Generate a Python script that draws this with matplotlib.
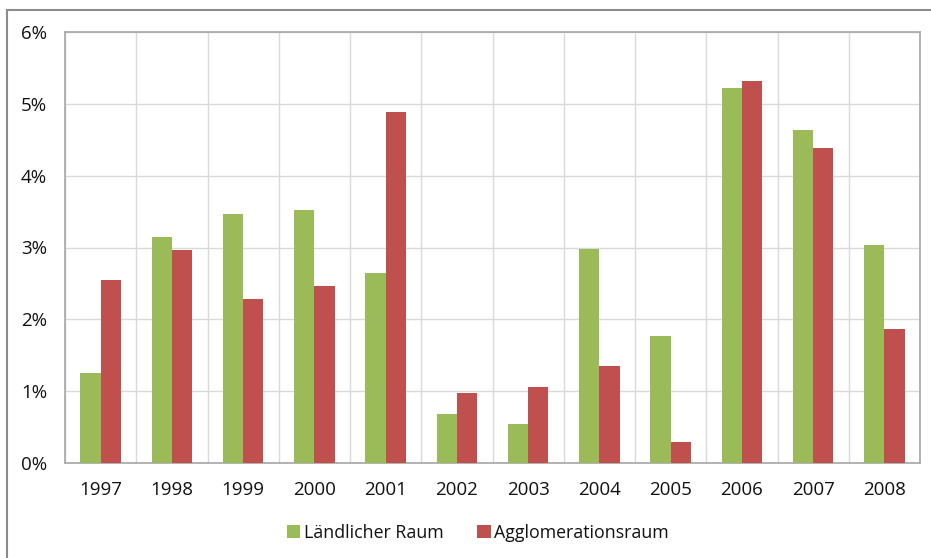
import matplotlib
import matplotlib.pyplot as plt
import numpy as np
from matplotlib import ticker
from matplotlib.patches import Rectangle

matplotlib.use("Agg")

years = ["1997", "1998", "1999", "2000", "2001", "2002",
         "2003", "2004", "2005", "2006", "2007", "2008"]
laendlich = [1.25, 3.15, 3.46, 3.52, 2.64, 0.68, 0.54, 2.98, 1.77, 5.22, 4.64, 3.03]
agglo = [2.55, 2.97, 2.29, 2.47, 4.88, 0.97, 1.06, 1.35, 0.29, 5.32, 4.39, 1.87]
y_ticks = [0, 1, 2, 3, 4, 5, 6]

GREEN = "#9BBB59"
RED = "#C0504D"
FONT = "Open Sans"

plt.rcParams["font.family"] = [FONT, "DejaVu Sans"]

fig = plt.figure(figsize=(9.31, 5.58), dpi=100)
ax = fig.add_axes([65 / 931, 1 - 463 / 558, (920 - 65) / 931, (463 - 32) / 558])

x = np.arange(len(years))
w = 0.284
ax.bar(x - w / 2, laendlich, w, color=GREEN, label="Ländlicher Raum", zorder=3)
ax.bar(x + w / 2, agglo, w, color=RED, label="Agglomerationsraum", zorder=3)

ax.set_xlim(-0.5, len(years) - 0.5)
ax.set_ylim(0, 6)
ax.set_yticks(y_ticks)
ax.yaxis.set_major_formatter(ticker.FuncFormatter(lambda v, _: f"{v:.0f}%"))
ax.set_xticks(x)
ax.set_xticklabels(years)
ax.set_xticks(np.arange(len(years) + 1) - 0.5, minor=True)

ax.grid(axis="y", which="major", color="#D9D9D9", linewidth=1, zorder=0)
ax.grid(axis="x", which="minor", color="#D9D9D9", linewidth=1, zorder=0)
ax.tick_params(axis="both", which="both", length=0, labelsize=13.5, labelcolor="#111111")
ax.tick_params(axis="y", pad=13)
ax.tick_params(axis="x", pad=13)

for s in ax.spines.values():
    s.set_color("#A6A6A6")
    s.set_linewidth(1.2)

# chart area border (cut off at bottom and right in the screenshot)
fig.add_artist(Rectangle((7 / 931, -0.2), 1.2, 1.2 - 9.5 / 558,
                         transform=fig.transFigure, fill=False,
                         edgecolor="#8C8C8C", linewidth=1.5))

ax.legend(loc="center", bbox_to_anchor=(478 / 931, 1 - 533 / 558),
          bbox_transform=fig.transFigure, ncol=2, frameon=False,
          fontsize=12.8, handlelength=0.75, handleheight=0.75,
          handletextpad=0.2, columnspacing=1.9, labelcolor="#111111")

fig.savefig("out.png", dpi=100)
